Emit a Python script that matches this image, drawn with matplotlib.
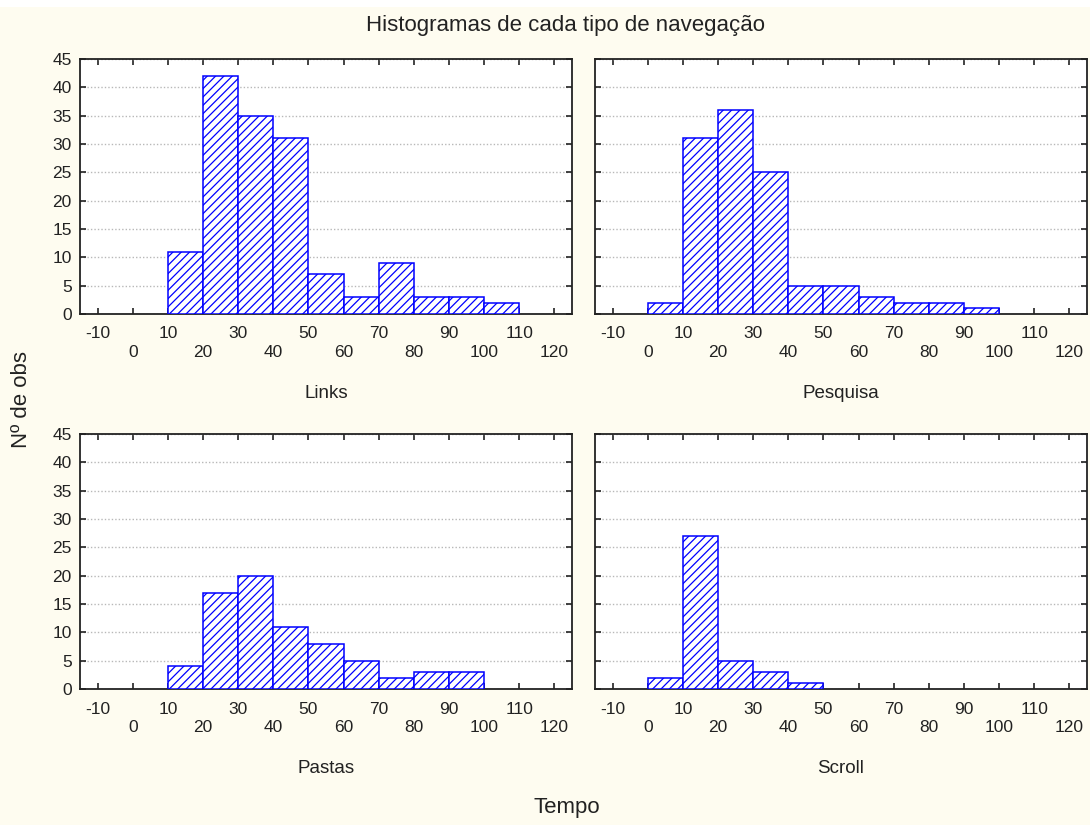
import matplotlib
matplotlib.use('Agg')
import matplotlib.pyplot as plt
from matplotlib.patches import Rectangle
import numpy as np

plt.rcParams['font.family'] = ['Liberation Sans', 'DejaVu Sans']
plt.rcParams['hatch.linewidth'] = 0.9

# limites inferiores das classes (largura 10)
bin_edges = [0, 10, 20, 30, 40, 50, 60, 70, 80, 90, 100, 110]
links = [0, 11, 42, 35, 31, 7, 3, 9, 3, 3, 2]
pesquisa = [2, 31, 36, 25, 5, 5, 3, 2, 2, 1, 0]
pastas = [0, 4, 17, 20, 11, 8, 5, 2, 3, 3, 0]
scroll = [2, 27, 5, 3, 1, 0, 0, 0, 0, 0, 0]
panel_names = ['Links', 'Pesquisa', 'Pastas', 'Scroll']
x_ticks = list(range(-10, 130, 10))
y_ticks = list(range(0, 50, 5))

bg = '#fefcf0'
fig = plt.figure(figsize=(10.9, 8.25), dpi=100, facecolor=bg)
fig.add_artist(Rectangle((0, 1 - 7 / 825), 1, 7 / 825, transform=fig.transFigure,
                         facecolor='white', edgecolor='none'))

W, H = 1090, 825
boxes = [(80, 59), (595, 59), (80, 434), (595, 434)]
aw, ah = 492, 255
series = [links, pesquisa, pastas, scroll]

for (lx, ty), name, counts in zip(boxes, panel_names, series):
    ax = fig.add_axes([lx / W, 1 - (ty + ah) / H, aw / W, ah / H])
    ax.set_facecolor('white')
    left = np.array(bin_edges[:-1])
    heights = np.array(counts)
    mask = heights > 0
    ax.bar(left[mask], heights[mask], width=10, align='edge', facecolor='white',
           edgecolor='#0000ff', hatch='////', linewidth=1.1, zorder=3)
    ax.set_xlim(-15, 125)
    ax.set_ylim(0, 45)
    ax.set_xticks(x_ticks)
    labels = [str(v) if (v // 10) % 2 != 0 else '\n' + str(v) for v in x_ticks]
    ax.set_xticklabels(labels, fontsize=12.5, linespacing=1.3)
    ax.set_yticks(y_ticks)
    if lx == 80:
        ax.set_yticklabels([str(v) for v in y_ticks], fontsize=12.5)
    else:
        ax.set_yticklabels([])
    ax.tick_params(direction='in', length=4, width=1.2, top=True, right=True,
                   colors='#222222', labelcolor='#222222')
    ax.tick_params(axis='x', pad=9)
    ax.tick_params(axis='y', pad=6)
    ax.grid(axis='y', linestyle=(0, (1, 1.5)), color='#b8b8b8', linewidth=1.0, zorder=0)
    for s in ax.spines.values():
        s.set_linewidth(1.3)
        s.set_color('#222222')
    ax.set_xlabel(name, fontsize=13.5, labelpad=18, color='#222222')

fig.text(565 / W, 1 - 25 / H, 'Histogramas de cada tipo de navegação', ha='center',
         va='center', fontsize=16, color='#222222')
fig.text(567 / W, 1 - 808 / H, 'Tempo', ha='center', va='center', fontsize=16,
         color='#222222')
fig.text(22 / W, 1 - 400 / H, 'Nº de obs', ha='center', va='center', rotation=90,
         fontsize=16, color='#222222')

fig.savefig('out.png', dpi=100, facecolor=bg)
